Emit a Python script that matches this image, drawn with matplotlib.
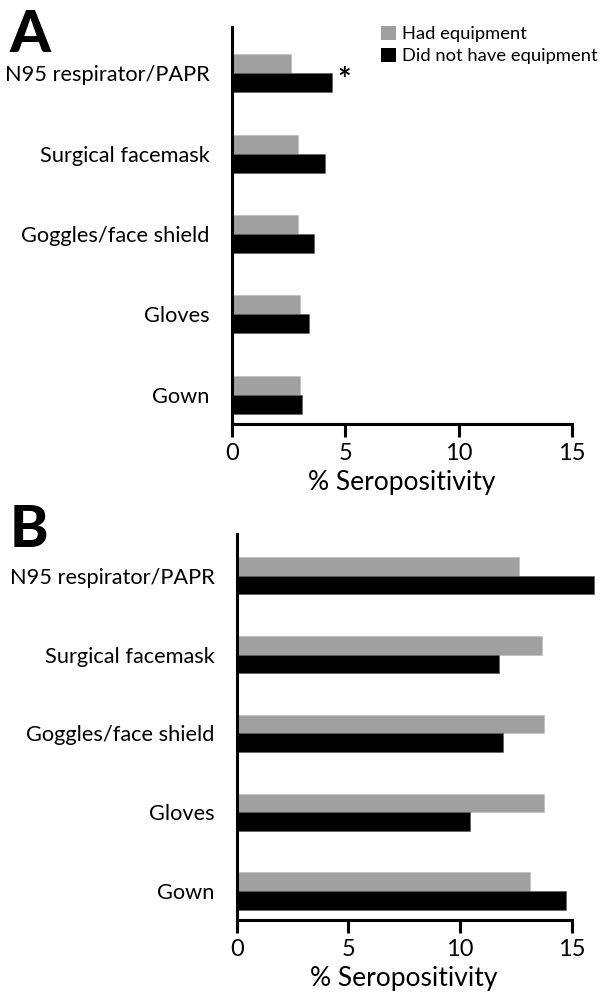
import matplotlib
matplotlib.use("Agg")
import matplotlib.pyplot as plt
import numpy as np
from matplotlib.patches import Patch

plt.rcParams['font.family'] = ['Lato', 'DejaVu Sans']

categories = ["N95 respirator/PAPR", "Surgical facemask", "Goggles/face shield", "Gloves", "Gown"]
series_names = ["Had equipment", "Did not have equipment"]
a_had = [2.6, 2.93, 2.93, 3.0, 3.0]
a_not = [4.43, 4.1, 3.6, 3.41, 3.1]
b_had = [12.65, 13.67, 13.74, 13.74, 13.15]
b_not = [16.0, 11.76, 11.94, 10.45, 14.75]
xticks = [0, 5, 10, 15]
panel_labels = ["A", "B"]

W, H = 603, 994
fig = plt.figure(figsize=(W / 100, H / 100), dpi=100)

GRAY = "#a0a0a0"
BLACK = "#000000"


def make_ax(left, right, top, bottom):
    return fig.add_axes([left / W, 1 - bottom / H, (right - left) / W, (bottom - top) / H])


def draw(ax, had, nott, ylim):
    n = len(categories)
    y = np.arange(n)[::-1]
    h = 0.236
    ax.barh(y + h / 2, had, height=h, color=GRAY, edgecolor="#bbbbbb", linewidth=0.4, clip_on=False, zorder=2)
    ax.barh(y - h / 2, nott, height=h, color=BLACK, edgecolor="#555555", linewidth=0.4, clip_on=False, zorder=2)
    ax.set_xlim(0, 15)
    ax.set_ylim(*ylim)
    ax.set_yticks(y)
    ax.set_yticklabels(categories, fontsize=15.7)
    ax.tick_params(axis='y', length=0, pad=16)
    ax.set_xticks(xticks)
    ax.set_xticklabels([str(t) for t in xticks], fontsize=17)
    ax.tick_params(axis='x', direction='out', length=9, width=2.2, pad=5)
    for s in ["top", "right"]:
        ax.spines[s].set_visible(False)
    for s in ["left", "bottom"]:
        ax.spines[s].set_linewidth(2.2)
        ax.spines[s].set_zorder(3)
    ax.set_xlabel("% Seropositivity", fontsize=19, labelpad=4)
    return y


axA = make_ax(232, 572, 27, 424)
yA = draw(axA, a_had, a_not, (-0.365, 4.576))
axA.text(a_not[0] + 0.2, yA[0] - 0.1, "*", fontsize=23, fontweight='bold', ha='left', va='center')

axB = make_ax(236.7, 571.7, 534.3, 920)
draw(axB, b_had, b_not, (-0.368, 4.525))

fig.text(10 / W, 1 - 52 / H, panel_labels[0], fontsize=42, fontweight='black', ha='left', va='baseline')
fig.text(10 / W, 1 - 547 / H, panel_labels[1], fontsize=42, fontweight='black', ha='left', va='baseline')

handles = [Patch(facecolor=GRAY, edgecolor='none'), Patch(facecolor=BLACK, edgecolor='none')]
fig.legend(handles, series_names, loc='upper left', bbox_to_anchor=(381 / W, 1 - 26 / H),
           frameon=False, fontsize=13.2, handlelength=0.8, handleheight=0.8, handletextpad=0.35,
           labelspacing=0.3, borderaxespad=0, borderpad=0)

fig.savefig("out.png", dpi=100)
